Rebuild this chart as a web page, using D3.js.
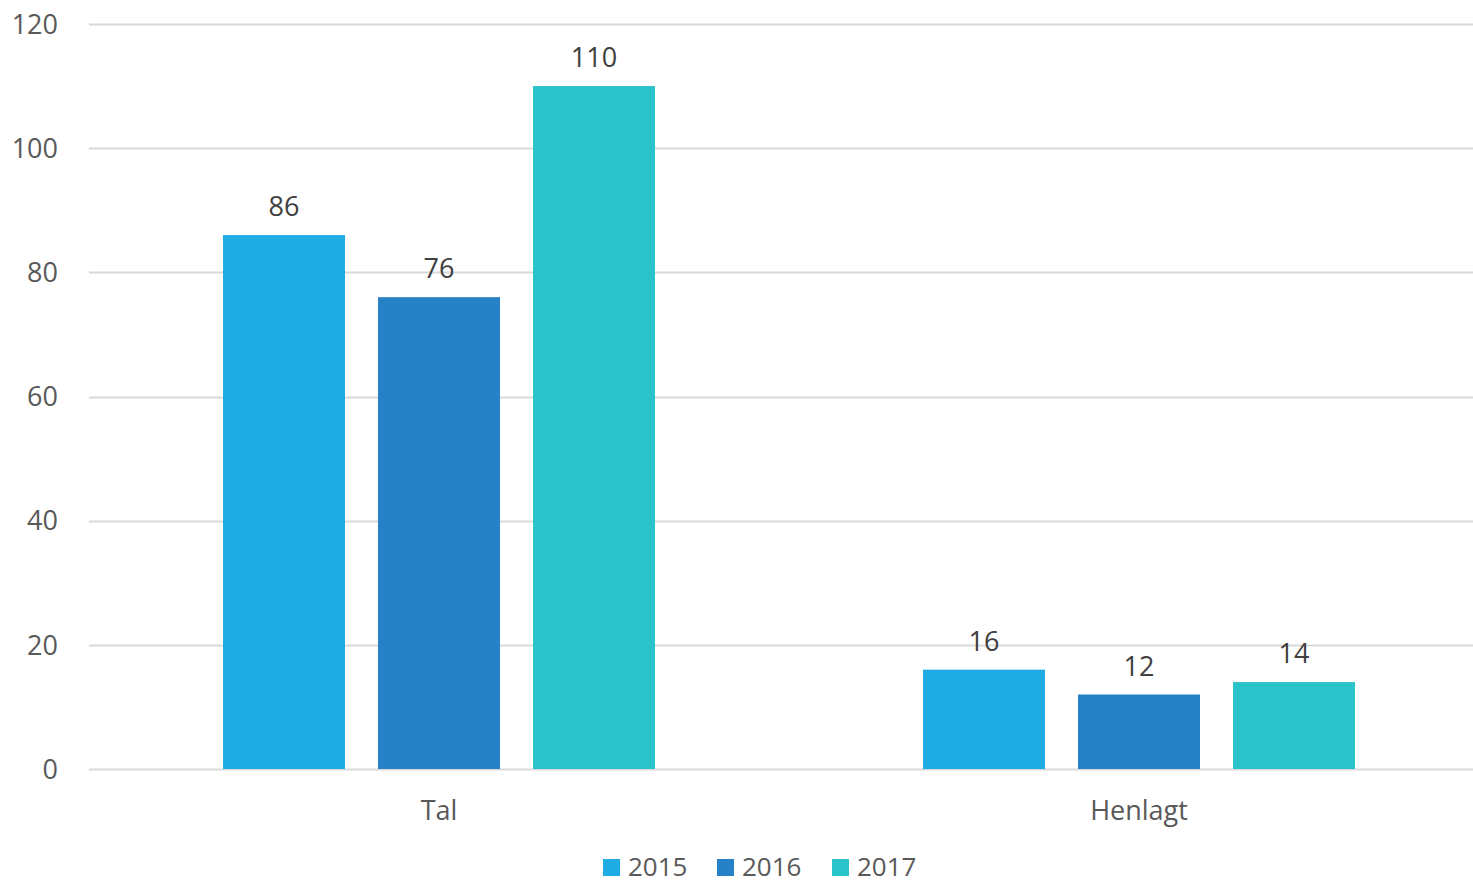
<!DOCTYPE html>
<html>
<head>
<meta charset="utf-8">
<script src="https://cdn.jsdelivr.net/npm/d3@7"></script>
<style>
  body { margin: 0; background: #ffffff; }
  svg { font-family: "Open Sans", sans-serif; display: block; }
</style>
</head>
<body>
<div id="chart"></div>
<script>
// Chart data
const categories = ["Tal", "Henlagt"];
const years = ["2015", "2016", "2017"];
const values2015 = [86, 16];
const values2016 = [76, 12];
const values2017 = [110, 14];
const yTicks = [0, 20, 40, 60, 80, 100, 120];

const yearColors = ["#1FABE3", "#2781C6", "#28C4CA"];

const width = 1473, height = 885;
const margin = { top: 24, left: 89, bottom: 116 };

// table built from the series arrays
const seriesValues = [values2015, values2016, values2017];
const rows = categories.map(function (c, i) {
    return { category: c, values: years.map(function (y, j) { return { year: y, value: seriesValues[j][i] }; }) };
});

const svg = d3.select("#chart").append("svg")
    .attr("width", width)
    .attr("height", height);

// x band runs a bit past the right edge, like the source picture
const x0 = d3.scaleBand()
    .domain(categories)
    .range([margin.left, margin.left + 1400])
    .paddingInner(0)
    .paddingOuter(0);

const x1 = d3.scaleBand()
    .domain(years)
    .range([134, 700 - 134])
    .paddingInner(33 / 155)
    .paddingOuter(0);

const y = d3.scaleLinear()
    .domain([0, 120])
    .range([height - margin.bottom, margin.top]);

// Gridlines
svg.append("g")
    .selectAll("line")
    .data(yTicks)
    .enter().append("line")
    .attr("x1", 89)
    .attr("x2", width)
    .attr("y1", function (d) { return Math.round(y(d)) + 0.5; })
    .attr("y2", function (d) { return Math.round(y(d)) + 0.5; })
    .style("stroke", "#D9D9D9")
    .style("stroke-width", 2);

// Y axis labels
svg.append("g")
    .selectAll("text")
    .data(yTicks)
    .enter().append("text")
    .attr("x", 58)
    .attr("y", function (d) { return y(d); })
    .attr("dy", "0.36em")
    .attr("text-anchor", "end")
    .style("font-size", "27px")
    .style("fill", "#595959")
    .text(function (d) { return d; });

// Bars
const group = svg.append("g")
    .selectAll("g")
    .data(rows)
    .enter().append("g")
    .attr("transform", function (d) { return "translate(" + x0(d.category) + ",0)"; });

group.selectAll("rect")
    .data(function (d) { return d.values; })
    .enter().append("rect")
    .attr("x", function (d) { return x1(d.year); })
    .attr("width", x1.bandwidth())
    .attr("y", function (d) { return y(d.value); })
    .attr("height", function (d) { return y(0) - y(d.value); })
    .style("fill", function (d, i) { return yearColors[i]; });

// Data labels
group.selectAll("text")
    .data(function (d) { return d.values; })
    .enter().append("text")
    .attr("x", function (d) { return x1(d.year) + x1.bandwidth() / 2; })
    .attr("y", function (d) { return y(d.value) - 19; })
    .attr("text-anchor", "middle")
    .style("font-size", "27px")
    .style("fill", "#404040")
    .text(function (d) { return d.value; });

// Category labels
svg.append("g")
    .selectAll("text")
    .data(categories)
    .enter().append("text")
    .attr("x", function (d) { return x0(d) + x0.bandwidth() / 2; })
    .attr("y", 820)
    .attr("text-anchor", "middle")
    .style("font-size", "27px")
    .style("fill", "#595959")
    .text(function (d) { return d; });

// Legend (kept just clear of the bottom edge)
const legendX = [603, 717, 832];
const legend = svg.append("g")
    .selectAll("g")
    .data(years)
    .enter().append("g")
    .attr("transform", function (d, i) { return "translate(" + legendX[i] + ",859)"; });

legend.append("rect")
    .attr("width", 17)
    .attr("height", 17)
    .style("fill", function (d, i) { return yearColors[i]; });

legend.append("text")
    .attr("x", 25)
    .attr("y", 17)
    .style("font-size", "26px")
    .style("fill", "#595959")
    .text(function (d) { return d; });
</script>
</body>
</html>
